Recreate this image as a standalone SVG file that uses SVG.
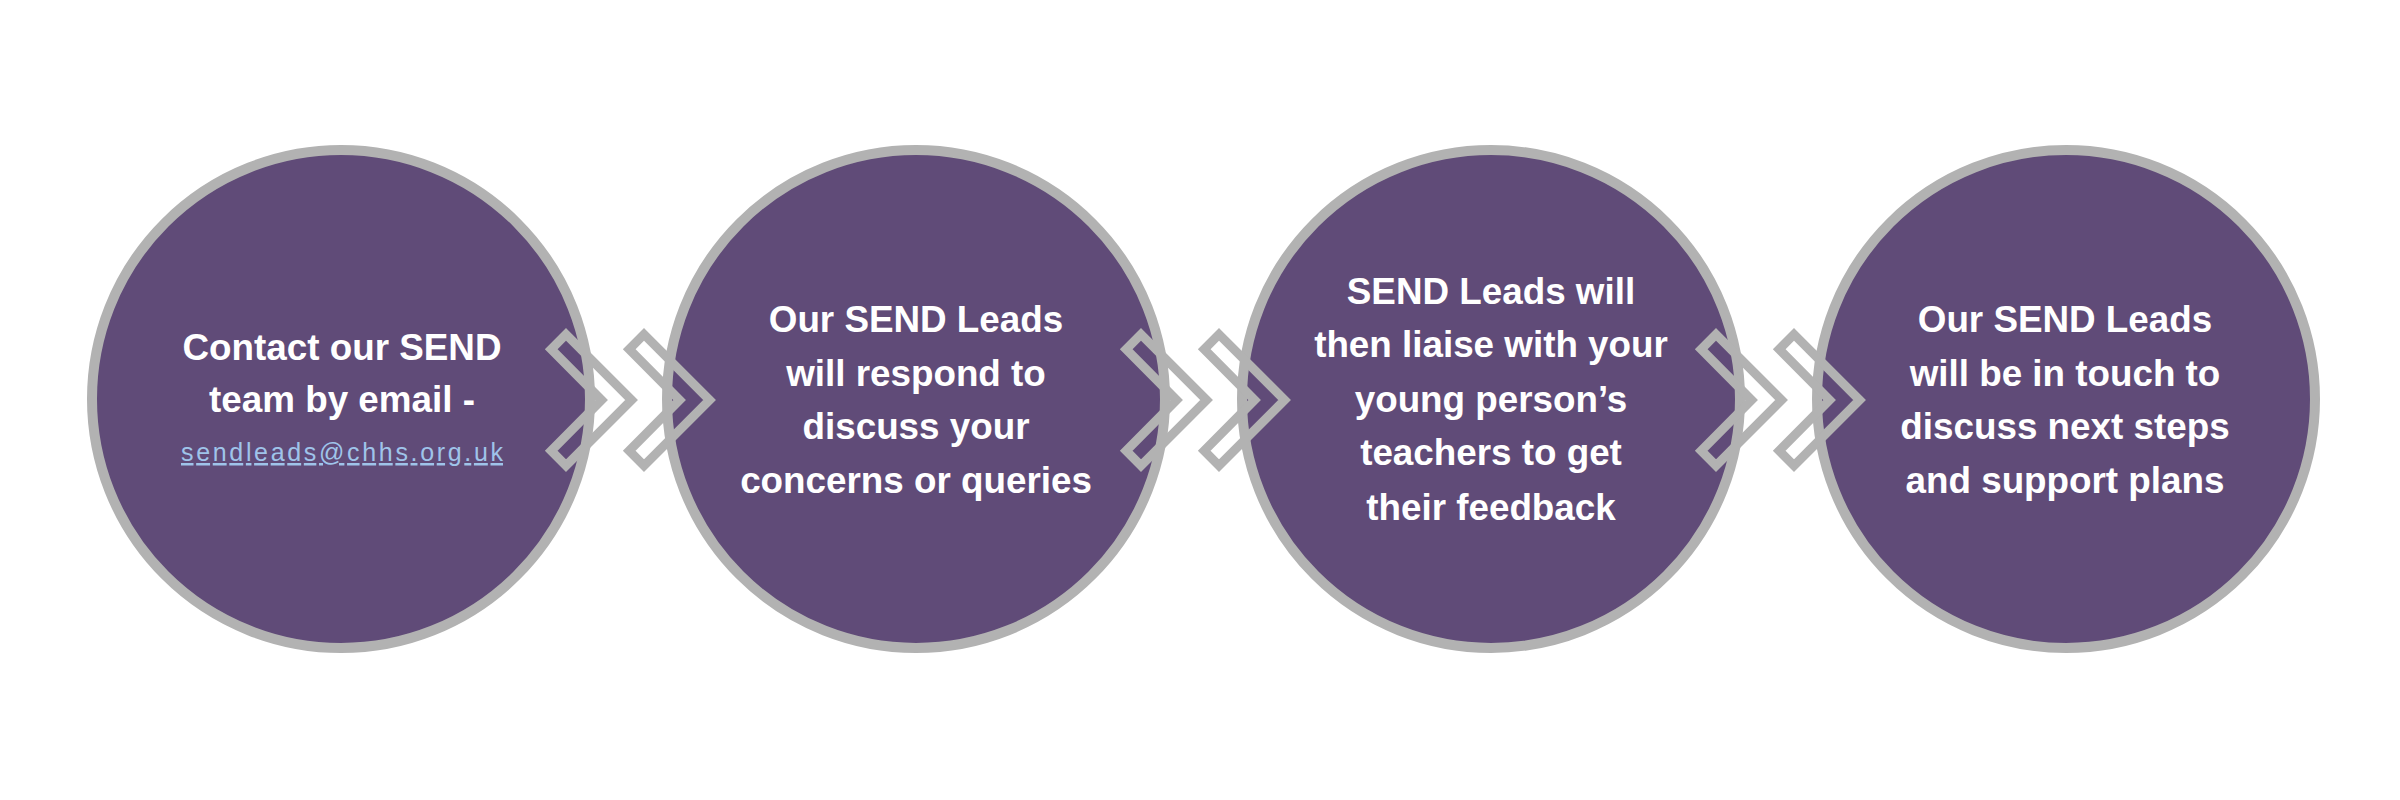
<svg xmlns="http://www.w3.org/2000/svg" xmlns:xlink="http://www.w3.org/1999/xlink" width="2400" height="800" viewBox="0 0 2400 800">
  <defs>
    <style>
      .node-circle { fill: #604b78; stroke: #b2b2b2; stroke-width: 10; }
      .chev { fill: none; stroke: #b2b2b2; stroke-width: 9; stroke-linejoin: miter; }
      .lbl { font-family: "Liberation Sans", Arial, Helvetica, sans-serif; font-weight: bold; font-size: 36.8px; fill: #ffffff; text-anchor: middle; }
      .mail { font-family: "Liberation Sans", Arial, Helvetica, sans-serif; font-weight: normal; font-size: 25px; fill: #9fc4ea; text-anchor: middle; text-decoration: underline; }
    </style>
    <path id="chevron" d="M -72,-65.6 L -6.4,0 L -72,65.6 L -86.8,50.8 L -36.4,0 L -86.8,-50.8 Z"/>
  </defs>
  <rect x="0" y="0" width="2400" height="800" fill="#ffffff"/>

  <g id="node1">
    <circle class="node-circle" cx="341" cy="399" r="249"/>
    <text class="lbl" x="342" y="360">Contact our SEND</text>
    <text class="lbl" x="342" y="412">team by email -</text>
    <text class="mail" x="342" y="461" textLength="322" lengthAdjust="spacing">sendleads@chhs.org.uk</text>
  </g>

  <g id="node2">
    <circle class="node-circle" cx="916" cy="399" r="249"/>
    <text class="lbl" x="916" y="332">Our SEND Leads</text>
    <text class="lbl" x="916" y="386">will respond to</text>
    <text class="lbl" x="916" y="439">discuss your</text>
    <text class="lbl" x="916" y="493">concerns or queries</text>
  </g>

  <g id="node3">
    <circle class="node-circle" cx="1491" cy="399" r="249"/>
    <text class="lbl" x="1491" y="304">SEND Leads will</text>
    <text class="lbl" x="1491" y="357">then liaise with your</text>
    <text class="lbl" x="1491" y="412">young person’s</text>
    <text class="lbl" x="1491" y="465">teachers to get</text>
    <text class="lbl" x="1491" y="520">their feedback</text>
  </g>

  <g id="node4">
    <circle class="node-circle" cx="2066" cy="399" r="249"/>
    <text class="lbl" x="2065" y="332">Our SEND Leads</text>
    <text class="lbl" x="2065" y="386">will be in touch to</text>
    <text class="lbl" x="2065" y="439">discuss next steps</text>
    <text class="lbl" x="2065" y="493">and support plans</text>
  </g>

  <g id="connectors">
    <use xlink:href="#chevron" href="#chevron" class="chev" transform="translate(638,400)"/>
    <use xlink:href="#chevron" href="#chevron" class="chev" transform="translate(716,400)"/>
    <use xlink:href="#chevron" href="#chevron" class="chev" transform="translate(1213,400)"/>
    <use xlink:href="#chevron" href="#chevron" class="chev" transform="translate(1291,400)"/>
    <use xlink:href="#chevron" href="#chevron" class="chev" transform="translate(1788,400)"/>
    <use xlink:href="#chevron" href="#chevron" class="chev" transform="translate(1866,400)"/>
  </g>
</svg>
